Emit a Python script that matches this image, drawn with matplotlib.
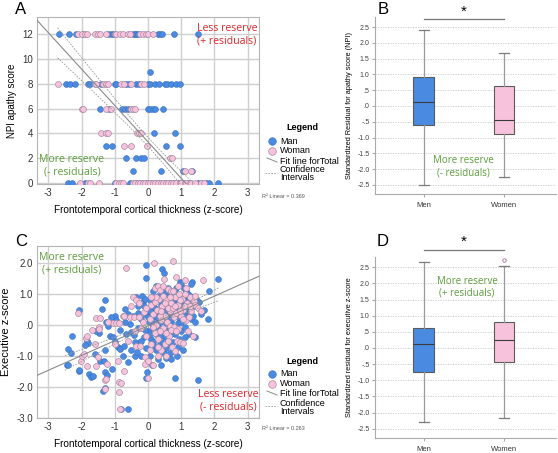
import numpy as np
import matplotlib.pyplot as plt

plt.rcParams['font.family'] = ['Liberation Sans', 'DejaVu Sans']

# ---------------- panel A data (x = cortical thickness, grouped by NPI score)
npi_levels = [12, 9, 8, 6, 4, 3, 2, 1, 0]
man_a = {
    12: [-2.67, -2.38, -2.18, -1.95, -1.2, -1.12, -1.05, -0.45, -0.4, -0.35, -0.3, 0.3, 0.37, 0.42, 0.77, 1.5],
    9: [0.07],
    8: [-2.47, -2.35, -2.2, -1.8, -1.75, -1.4, -1.0, -0.95, -0.65, -0.57, -0.35, -0.27, 0.0, 0.07, 0.2, 0.33,
        0.5, 0.58, 0.7, 0.85, 0.95],
    6: [-1.45, -1.17, -0.77, -0.7, -0.6, 0.0, 0.06, 0.14, 0.21, 0.44],
    4: [0.18, 0.81],
    3: [-1.25, -1.07, 0.54, 0.96],
    2: [-0.66, -0.36, -0.22, -0.12],
    1: [-0.44, 0.39, 1.05, 1.33],
    0: [-2.4, -2.3, -1.9, -1.0, -0.55, -0.35, -0.2, -0.05, 0.1, 0.25, 0.35, 0.5, 0.65, 0.78, 0.9, 1.05, 1.2,
        1.5, 1.6, 1.75, 1.85, 2.12],
}
woman_a = {
    12: [-2.1, -2.0, -1.9, -1.85, -1.6, -1.5, -1.43, -1.25, -1.0, -0.95, -0.85, -0.75, -0.6, -0.55, -0.25,
         -0.15, -0.05, 0.0, 0.15],
    9: [],
    8: [-2.72, -1.6, -1.55, -1.35, -1.27, -1.2, -0.8, -0.72, -0.5, -0.2, -0.12],
    6: [-2.0, -1.95, -1.27, -1.1, -0.5, -0.45, -0.4],
    4: [-1.42, -1.25, -1.2, -0.32, -0.27, -0.2],
    3: [-0.72, -0.52, -0.04],
    2: [0.67, 0.72],
    1: [1.12, 1.28],
    0: [-2.05, -1.8, -1.75, -1.47, -0.95, -0.88, -0.8, -0.75, -0.45, -0.4, -0.3, -0.25, -0.15, -0.1, 0.0, 0.05,
        0.15, 0.2, 0.3, 0.4, 0.45, 0.55, 0.6, 0.7, 0.75, 0.85, 0.95, 1.0, 1.1, 1.15, 1.25, 1.3, 1.4, 1.6, 1.7],
}
fit_a = (-2.94, 3.32)          # slope, intercept
ci_a = (0.13, 0.18)            # half width^2 = a + b*x^2
range_a = (-2.72, 2.12)
r2_a = '0.369'

# ---------------- panel C data (x, y)
man_c = [(-2.45, -1.3), (-2.42, -1.3), (-2.41, -0.77), (-2.31, -0.9), (-2.29, -0.34), (-2.07, 0.5),
         (-2.09, -1.47), (-2.08, -1.44), (-1.85, -0.5), (-1.81, -0.58), (-1.78, -1.58), (-1.73, -1.69),
         (-1.65, -1.65), (-1.48, -0.26), (-1.43, -1.15), (-1.37, 0.52), (-1.33, -1.15), (-1.3, -1.53),
         (-1.28, 0.82), (-1.28, -2.04), (-1.36, -2.12), (-1.25, 0.11), (-1.23, -1.61), (-1.2, -0.02),
         (-1.15, -0.34), (-1.08, -1.42), (-1.05, -0.4), (-0.98, 0.28), (-0.95, 0.17), (-0.91, -0.72),
         (-0.85, -0.77), (-0.8, -2.72), (-0.6, -2.72), (-0.75, -0.99), (-0.71, -0.67), (-0.7, 0.53),
         (-0.65, -0.3), (-0.6, -1.2), (-0.55, 0.02), (-0.51, -0.24), (-0.43, -0.32), (-0.4, -1.0),
         (-0.35, 0.9), (-0.33, -0.88), (-0.3, 0.4), (-0.25, -0.55), (-0.2, 0.2), (-0.17, 0.95),
         (-0.15, 0.75), (-0.12, 0.6), (-0.11, -0.4), (-0.08, 0.36), (-0.07, 1.95), (-0.05, 1.52),
         (-0.05, -0.75), (-0.03, -1.53), (-0.05, -1.72), (-0.02, 0.5), (0.0, -0.2), (0.02, 0.1),
         (0.05, -1.0), (0.05, 0.8), (0.1, 0.3), (0.1, -0.45), (0.12, -1.3), (0.15, 1.1), (0.15, -0.1),
         (0.2, 0.55), (0.2, -0.7), (0.22, 0.15), (0.25, -0.3), (0.27, 0.85), (0.3, -0.05), (0.3, -1.1),
         (0.33, 0.4), (0.35, -0.6), (0.38, 0.65), (0.4, -0.2), (0.42, 1.0), (0.43, 1.8), (0.45, 0.2),
         (0.47, 1.68), (0.48, -0.9), (0.5, 0.5), (0.5, -0.4), (0.52, 0.9), (0.55, 0.05), (0.55, -1.05),
         (0.58, 0.7), (0.6, -0.15), (0.6, 1.2), (0.62, 0.35), (0.65, -0.55), (0.67, 0.95), (0.7, 0.1),
         (0.7, -0.3), (0.72, 0.6), (0.75, -0.85), (0.76, 0.8), (0.8, 0.3), (0.81, -1.72), (0.82, 1.05),
         (0.85, -0.1), (0.86, -0.99), (0.88, 0.5), (0.9, 0.75), (0.92, -0.45), (0.95, 1.38), (0.95, 0.2),
         (0.98, 0.95), (1.0, -0.2), (1.02, 0.6), (1.05, 0.35), (1.08, 1.18), (1.1, 0.85), (1.12, -0.05),
         (1.15, 1.1), (1.15, 0.5), (1.2, 0.7), (1.22, -0.3), (1.25, 0.95), (1.28, 0.2), (1.32, 1.38),
         (1.35, 0.6), (1.4, 0.09), (1.42, -0.4), (1.45, 0.85), (1.5, -1.76), (1.52, 0.73), (1.6, 0.35),
         (1.7, 0.5), (1.8, 0.2), (1.84, 1.09), (2.1, 1.5), (1.0, 1.35), (1.3, 1.33),
         (0.05, 0.45), (0.15, 0.0), (0.28, 0.25), (0.4, 0.8), (0.5, 0.95), (0.6, 0.55), (0.7, 0.85),
         (0.75, 0.4), (0.85, 0.65), (0.95, 0.55), (1.05, 0.8), (1.15, 0.3), (0.35, -0.35), (0.45, -0.55),
         (0.55, -0.75), (0.65, -0.9), (0.25, -0.8), (0.15, -0.55), (0.05, -0.3), (-0.1, -0.15),
         (-0.2, -0.5), (-0.3, -0.1), (-0.45, 0.3), (-0.6, 0.35), (-0.85, -0.15), (-1.0, -0.55),
         (-1.1, 0.25), (-1.55, -0.2), (-1.6, -0.95), (-1.9, -0.65),
         (0.3, 0.95), (0.45, 0.6), (0.55, 0.3), (0.65, 0.15), (0.8, -0.3), (0.9, 0.05), (1.0, 0.1),
         (1.1, -0.4), (1.25, 0.45), (1.35, 0.3), (0.35, 0.1), (0.15, 0.6), (0.0, 0.25), (-0.1, 0.85),
         (0.6, -0.6), (0.75, -0.55), (0.9, -0.7), (1.05, -0.8), (0.25, 1.25), (0.55, 1.1), (0.85, 1.2),
         (1.2, 1.0), (-0.4, -0.55), (-0.5, -0.8), (-0.2, -1.0), (0.4, -1.3), (0.7, -1.1), (-0.3, 0.6),
         (-0.7, 0.1), (-1.3, -0.8)]
woman_c = [(-2.1, 0.39), (-2.03, -1.15), (-2.0, -1.01), (-1.92, -0.95), (-1.87, -0.42), (-1.83, -0.34),
           (-1.85, -1.33), (-1.55, 0.22), (-1.45, 0.22), (-1.7, -0.17), (-1.48, -0.07), (-1.47, -0.13),
           (-1.5, -1.04), (-1.55, -1.33), (-1.3, -1.76), (-1.29, -2.05), (-1.23, -1.26), (-1.25, -1.74),
           (-1.05, 0.06), (-0.95, 0.06), (-0.88, 0.06), (-0.9, -1.17), (-0.88, -1.85), (-0.87, -2.17),
           (-0.85, -2.72), (-0.8, -1.87), (-0.75, 0.28), (-0.71, 0.3), (-0.71, -1.47), (-0.65, 1.84),
           (-0.55, 0.25), (-0.46, 0.89), (-0.42, 0.25), (-0.35, 0.8), (-0.35, -0.67), (-0.28, 0.25),
           (-0.27, 0.71), (-0.25, -0.67), (-0.21, -0.11), (-0.13, 0.41), (-0.1, -1.04), (-0.08, -1.26),
           (-0.05, -0.35), (0.0, -1.7), (0.01, -1.15), (0.05, 0.2), (0.08, 0.65), (0.1, -0.6), (0.15, 0.35),
           (0.18, 2.0), (0.2, -0.25), (0.22, 1.2), (0.25, 0.0), (0.28, 0.5), (0.3, -0.45), (0.31, 1.27),
           (0.33, 0.85), (0.36, 1.14), (0.38, 0.15), (0.4, -0.8), (0.42, 0.6), (0.45, -0.1), (0.48, 1.48),
           (0.5, 0.3), (0.52, -0.6), (0.55, 0.8), (0.58, 0.1), (0.61, 1.16), (0.62, -0.35), (0.65, 0.45),
           (0.66, -0.02), (0.68, 1.09), (0.7, 0.7), (0.72, -0.7), (0.74, 1.11), (0.74, 2.08), (0.78, 0.25),
           (0.79, -0.07), (0.8, 0.9), (0.83, 1.54), (0.85, 0.4), (0.88, -0.5), (0.9, 0.65), (0.91, -0.13),
           (0.93, 1.0), (0.96, -0.56), (1.0, 0.3), (1.02, 0.85), (1.04, -0.59), (1.06, 0.5), (1.1, 1.46),
           (1.11, 1.0), (1.15, 0.15), (1.18, 0.7), (1.22, 0.25), (1.25, 0.9), (1.3, 0.45), (1.35, -0.36),
           (1.37, 0.79), (1.42, 0.65), (1.5, 0.55), (1.6, 0.46), (1.65, 1.44), (1.2, -0.2), (0.6, 0.55),
           (0.35, 0.3), (0.2, 0.75), (0.05, -0.8), (-0.15, 0.1), (0.45, 0.95), (0.75, 0.55), (0.95, 0.45),
           (1.1, 0.6), (0.3, -1.0), (0.15, -1.3), (0.55, -1.0),
           (0.4, 0.45), (0.5, 0.7), (0.65, 0.9), (0.8, 0.6), (0.95, 0.8), (1.05, 0.2), (1.25, 0.6),
           (1.4, 0.95), (0.55, -0.25), (0.7, -0.15), (0.85, -0.2), (0.25, 0.9), (0.1, 0.9), (-0.05, 0.55),
           (0.3, -0.7), (0.6, -0.5), (0.8, -0.85), (1.15, 1.2), (0.9, 1.25), (0.45, 1.25), (-0.6, -0.5),
           (-0.4, -0.2), (-0.5, 0.6), (-1.0, -0.6), (-1.2, 0.1), (-1.6, -0.6), (0.15, -0.05), (0.35, -0.2)]
fit_c = (0.479, -0.025)
ci_c = (0.0036, 0.0085)
range_c = (-2.5, 2.12)
r2_c = '0.263'

# ---------------- box plot summaries (whislo, q1, med, q3, whishi, outliers)
box_b = {'Men': (-2.5, -0.6, 0.13, 0.93, 2.4, []),
         'Women': (-2.25, -0.88, -0.43, 0.62, 1.68, [])}
box_d = {'Men': (-2.28, -0.74, 0.11, 0.63, 2.65, []),
         'Women': (-2.18, -0.44, 0.24, 0.79, 2.53, [2.74])}

BLUE = '#4a8ae0'
BLUE_EDGE = '#3b72c4'
PINK = '#f7c3dc'
PINK_EDGE = '#a98aa2'
RED = '#e0262b'
GREEN = '#5c9e3c'
GRID = '#cfcfcf'
NOTE_FONT = ['Open Sans', 'DejaVu Sans']

fig = plt.figure(figsize=(5.58, 4.53), dpi=100)


def scatter_panel(ax, men, women, fit, ci, xr, ylim, yticks, ylabels, ylabel, ylabel_size):
    ax.set_xlim(-3.34, 3.34)
    ax.set_ylim(*ylim)
    ax.set_xticks(range(-3, 4))
    ax.set_xticklabels([str(v) for v in range(-3, 4)])
    ax.set_yticks(yticks)
    ax.set_yticklabels(ylabels)
    ax.grid(True, color=GRID, lw=1.0)
    ax.set_axisbelow(True)
    for s in ax.spines.values():
        s.set_color('#b5b5b5')
        s.set_linewidth(0.8)
    ax.tick_params(length=0, labelsize=7, colors='#333333', pad=3)
    ax.scatter(men[0], men[1], s=18, color=BLUE, edgecolors=BLUE_EDGE, linewidths=0.4, zorder=3)
    ax.scatter(women[0], women[1], s=18, color=PINK, edgecolors=PINK_EDGE, linewidths=0.5, zorder=3)
    xs = np.linspace(-3.4, 3.4, 200)
    ax.plot(xs, fit[0] * xs + fit[1], color='#8a8a8a', lw=0.8, zorder=4)
    xc = np.linspace(xr[0], xr[1], 200)
    hw = np.sqrt(ci[0] + ci[1] * xc ** 2)
    for sgn in (1, -1):
        ax.plot(xc, fit[0] * xc + fit[1] + sgn * hw, color='#9a9a9a', lw=0.6,
                ls=(0, (2, 1.5)), zorder=4)
    ax.set_xlabel('Frontotemporal cortical thickness (z-score)', fontsize=7.2, labelpad=5)
    ax.set_ylabel(ylabel, fontsize=ylabel_size, labelpad=4)


def legend_block(y0, r2):
    # y0 = pixel row of the "Legend" title
    def fy(py):
        return 1 - py / 453

    def fx(px):
        return px / 558
    fig.text(fx(302), fy(y0), 'Legend', fontsize=6.5, fontweight='bold', ha='center', va='center')
    lx = fig.add_axes([0, 0, 1, 1], facecolor='none')
    lx.set_xlim(0, 558)
    lx.set_ylim(453, 0)
    lx.axis('off')
    lx.scatter([272], [y0 + 13], s=30, color=BLUE, edgecolors=BLUE_EDGE, linewidths=0.4)
    lx.scatter([272], [y0 + 23], s=30, color=PINK, edgecolors=PINK_EDGE, linewidths=0.5)
    lx.plot([267, 277], [y0 + 30, y0 + 34], color='#8a8a8a', lw=0.7)
    lx.plot([265, 277], [y0 + 45, y0 + 45], color='#9a9a9a', lw=0.6, ls=(0, (2, 1.5)))
    fig.text(fx(280), fy(y0 + 13), 'Man', fontsize=6.5, va='center')
    fig.text(fx(280), fy(y0 + 23), 'Woman', fontsize=6.5, va='center')
    fig.text(fx(280), fy(y0 + 33), 'Fit line forTotal', fontsize=6.5, va='center')
    fig.text(fx(280), fy(y0 + 42), 'Confidence', fontsize=6.5, va='center')
    fig.text(fx(280), fy(y0 + 50), 'Intervals', fontsize=6.5, va='center')
    fig.text(fx(262), fy(y0 + 68), 'R\u00b2 Linear = ' + r2, fontsize=4, color='#555555', va='center')


def box_panel(ax, stats, ylabel, star_y, bar_y):
    ax.set_xlim(0.39, 2.65)
    ax.set_ylim(-2.79, 2.82)
    bxp = []
    for name, (lo, q1, med, q3, hi, fl) in stats.items():
        bxp.append(dict(label=name, whislo=lo, q1=q1, med=med, q3=q3, whishi=hi, fliers=fl))
    res = ax.bxp(bxp, positions=[1, 2], widths=0.26, patch_artist=True,
                 boxprops=dict(edgecolor='#5a5a5a', linewidth=0.8),
                 medianprops=dict(color='#3a3a3a', linewidth=0.8),
                 whiskerprops=dict(color='#9a9a9a', linewidth=0.9),
                 capprops=dict(color='#7a7a7a', linewidth=0.9),
                 flierprops=dict(marker='o', markersize=2.5, markerfacecolor='none',
                                 markeredgecolor='#a07090', markeredgewidth=0.6),
                 capwidths=0.13)
    for patch, col in zip(res['boxes'], [BLUE, PINK]):
        patch.set_facecolor(col)
    ticks = np.arange(-2.5, 2.51, 0.5)
    labels = []
    for t in ticks:
        s = '%.1f' % t
        s = s.replace('0.', '.') if abs(t) < 1 else s
        if s == '-.0' or s == '.0':
            s = '.0'
        labels.append(s)
    ax.set_yticks(ticks)
    ax.set_yticklabels(labels)
    ax.yaxis.grid(True, color='#c8c8c8', lw=0.6, ls=(0, (1.5, 1.5)))
    ax.set_axisbelow(True)
    ax.spines['top'].set_visible(False)
    ax.spines['right'].set_visible(False)
    ax.spines['left'].set_color('#aaaaaa')
    ax.spines['bottom'].set_color('#aaaaaa')
    ax.tick_params(axis='y', labelsize=5, length=2, color='#aaaaaa', pad=2, colors='#444444')
    ax.tick_params(axis='x', labelsize=5.5, length=2, color='#aaaaaa', pad=4, colors='#333333')
    ax.set_ylabel(ylabel, fontsize=5.3, labelpad=3)
    tr = ax.get_xaxis_transform()
    ax.plot([1, 2], [bar_y, bar_y], color='#777777', lw=0.9, transform=tr, clip_on=False)
    ax.text(1.5, star_y, '*', fontsize=11, ha='center', va='center', transform=tr)


# ---------------- panel A
axA = fig.add_axes([37 / 558, 1 - 184 / 453, 222 / 558, 167 / 453])
mx = [x for lv in npi_levels for x in man_a[lv]]
my = [lv for lv in npi_levels for x in man_a[lv]]
wx = [x for lv in npi_levels for x in woman_a[lv]]
wy = [lv for lv in npi_levels for x in woman_a[lv]]
scatter_panel(axA, (mx, my), (wx, wy), fit_a, ci_a, range_a, (-0.08, 13.4),
              list(range(0, 13, 2)), [str(v) for v in range(0, 13, 2)], 'NPI apathy score', 7)
axA.text(2.38, 11.95, 'Less reserve\n(+ residuals)', color=RED, fontsize=7.6, ha='center', va='center',
         family=NOTE_FONT, linespacing=1.15)
axA.text(-2.29, 1.4, 'More reserve\n(- residuals)', color=GREEN, fontsize=7.6, ha='center', va='center',
         family=NOTE_FONT, linespacing=1.15)
legend_block(128, r2_a)

# ---------------- panel C
axC = fig.add_axes([37 / 558, 1 - 418 / 453, 222 / 558, 172 / 453])
cm = np.array(man_c)
cw = np.array(woman_c)
scatter_panel(axC, (cm[:, 0], cm[:, 1]), (cw[:, 0], cw[:, 1]), fit_c, ci_c, range_c, (-3.0, 2.55),
              [2, 1, 0, -1, -2, -3], ['2.0', '1.0', '.0', '-1.0', '-2.0', '-3.0'], 'Executive z-score', 8)
axC.text(-2.29, 1.98, 'More reserve\n(+ residuals)', color=GREEN, fontsize=7.6, ha='center', va='center',
         family=NOTE_FONT, linespacing=1.15)
axC.text(2.41, -2.44, 'Less reserve\n(- residuals)', color=RED, fontsize=7.6, ha='center', va='center',
         family=NOTE_FONT, linespacing=1.15)
legend_block(361, r2_c)

# ---------------- panel B
axB = fig.add_axes([375 / 558, 1 - 194 / 453, 181 / 558, 177 / 453])
box_panel(axB, box_b, 'Standardized Residual for apathy score (NPI)', 1.03, 0.99)
axB.text(1.5, -1.93, 'More reserve\n(- residuals)', color=GREEN, fontsize=7, ha='center', va='center',
         family=NOTE_FONT, linespacing=1.1)

# ---------------- panel D
axD = fig.add_axes([375 / 558, 1 - 438 / 453, 181 / 558, 181 / 453])
box_panel(axD, box_d, 'Standardized residual for executive z-score', 1.085, 1.04)
axD.text(1.54, 1.89, 'More reserve\n(+ residuals)', color=GREEN, fontsize=7, ha='center', va='center',
         family=NOTE_FONT, linespacing=1.1)

# ---------------- panel letters
for letter, px, py in [('A', 21, 10), ('B', 383, 10), ('C', 21, 242), ('D', 383, 242)]:
    fig.text(px / 558, 1 - py / 453, letter, fontsize=12, ha='center', va='center')

fig.savefig('out.png', dpi=100)
